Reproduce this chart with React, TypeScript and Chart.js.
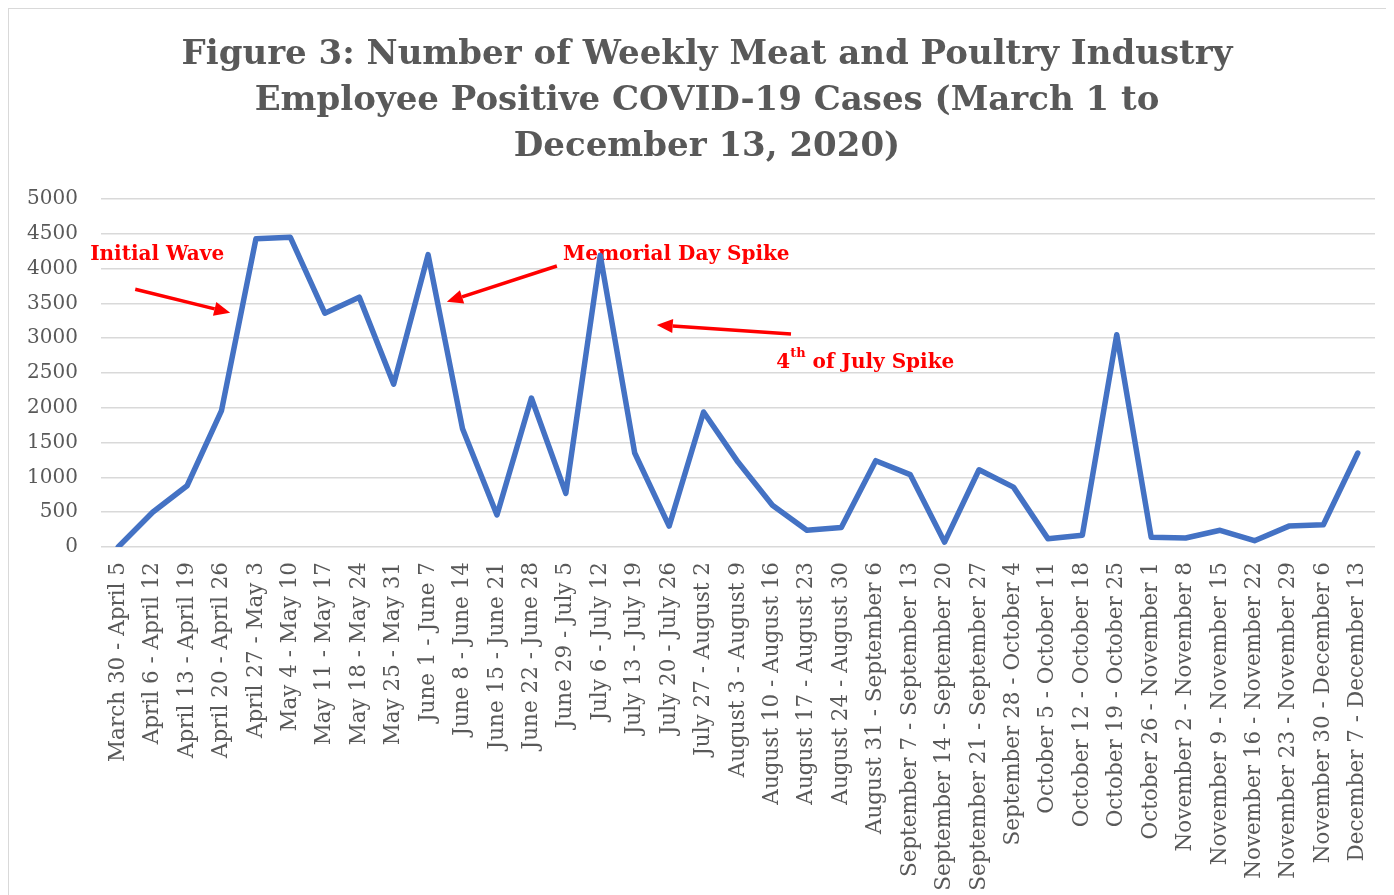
import React, { useEffect, useRef } from "react";
import { Chart, registerables } from "chart.js";

Chart.register(...registerables);

const weekLabels: string[] = [
  "March 30 - April 5",
  "April 6 - April 12",
  "April 13 - April 19",
  "April 20 - April 26",
  "April 27 - May 3",
  "May 4 - May 10",
  "May 11 - May 17",
  "May 18 - May 24",
  "May 25 - May 31",
  "June 1 - June 7",
  "June 8 - June 14",
  "June 15 - June 21",
  "June 22 - June 28",
  "June 29 - July 5",
  "July 6 - July 12",
  "July 13 - July 19",
  "July 20 - July 26",
  "July 27 - August 2",
  "August 3 - August 9",
  "August 10 - August 16",
  "August 17 - August 23",
  "August 24 - August 30",
  "August 31 - September 6",
  "September 7 - September 13",
  "September 14 - September 20",
  "September 21 - September 27",
  "September 28 - October 4",
  "October 5 - October 11",
  "October 12 - October 18",
  "October 19 - October 25",
  "October 26 - November 1",
  "November 2 - November 8",
  "November 9 - November 15",
  "November 16 - November 22",
  "November 23 - November 29",
  "November 30 - December 6",
  "December 7 - December 13",
];

const weeklyCases: number[] = [
  0, 500, 880, 1960, 4430, 4450, 3360, 3590, 2340, 4200,
  1700, 460, 2140, 770, 4190, 1350, 300, 1940, 1220, 600,
  240, 280, 1240, 1040, 70, 1110, 860, 120, 170, 3050,
  140, 130, 240, 90, 300, 320, 1350,
];

const yTickValues: number[] = [0, 500, 1000, 1500, 2000, 2500, 3000, 3500, 4000, 4500, 5000];

const titleLines: string[] = [
  "Figure 3: Number of Weekly Meat and Poultry Industry",
  "Employee Positive COVID-19 Cases (March 1 to",
  "December 13, 2020)",
];

// annotation texts (positions in data coordinates: category index, value)
const noteTexts: string[] = ["Initial Wave", "Memorial Day Spike"];
const noteAnchors: [number, number][] = [
  [-0.813, 4196],
  [12.92, 4196],
];
const julyNote = { main: "4", sup: "th", rest: " of July Spike" };
const julyAnchor: [number, number] = [19.11, 2644];

const arrowFrom: [number, number][] = [
  [0.494, 3703],
  [12.74, 4037],
  [19.54, 3060],
];
const arrowTo: [number, number][] = [
  [3.252, 3366],
  [9.544, 3524],
  [15.64, 3190],
];

const SERIF = '"DejaVu Serif", serif';
const GREY = "#595959";
const RED = "#ff0000";

const CANVAS_W = 1385;
const CANVAS_H = 886;

const titlePlugin = {
  id: "figTitle",
  afterDraw(chart: any) {
    const ctx = chart.ctx;
    ctx.save();
    ctx.font = `bold 34px ${SERIF}`;
    ctx.fillStyle = GREY;
    ctx.textAlign = "center";
    ctx.textBaseline = "middle";
    titleLines.forEach((t, i) => ctx.fillText(t, 698, 46 + i * 46));
    ctx.restore();
  },
};

const notesPlugin = {
  id: "notes",
  beforeDatasetsDraw(chart: any) {
    const ctx = chart.ctx;
    const xs = chart.scales.x;
    const ys = chart.scales.y;
    ctx.save();
    ctx.fillStyle = RED;
    ctx.textBaseline = "middle";
    ctx.textAlign = "left";
    ctx.font = `bold 20px ${SERIF}`;
    noteTexts.forEach((t, i) => {
      const [xi, v] = noteAnchors[i];
      ctx.fillText(t, xs.getPixelForValue(xi), ys.getPixelForValue(v));
    });
    const jx = xs.getPixelForValue(julyAnchor[0]);
    const jy = ys.getPixelForValue(julyAnchor[1]);
    ctx.fillText(julyNote.main, jx, jy);
    const w1 = ctx.measureText(julyNote.main).width;
    ctx.font = `bold 13px ${SERIF}`;
    ctx.fillText(julyNote.sup, jx + w1, jy - 9);
    const w2 = ctx.measureText(julyNote.sup).width;
    ctx.font = `bold 20px ${SERIF}`;
    ctx.fillText(julyNote.rest, jx + w1 + w2, jy);

    // arrows
    ctx.strokeStyle = RED;
    ctx.lineWidth = 3.5;
    arrowFrom.forEach((f, i) => {
      const t = arrowTo[i];
      const x1 = xs.getPixelForValue(f[0]);
      const y1 = ys.getPixelForValue(f[1]);
      const x2 = xs.getPixelForValue(t[0]);
      const y2 = ys.getPixelForValue(t[1]);
      const ang = Math.atan2(y2 - y1, x2 - x1);
      const headLen = 16;
      const headW = 7;
      const bx = x2 - headLen * Math.cos(ang);
      const by = y2 - headLen * Math.sin(ang);
      ctx.beginPath();
      ctx.moveTo(x1, y1);
      ctx.lineTo(bx, by);
      ctx.stroke();
      ctx.beginPath();
      ctx.moveTo(x2, y2);
      ctx.lineTo(bx + headW * Math.sin(ang), by - headW * Math.cos(ang));
      ctx.lineTo(bx - headW * Math.sin(ang), by + headW * Math.cos(ang));
      ctx.closePath();
      ctx.fill();
    });
    ctx.restore();
  },
};

export default function App() {
  const canvasRef = useRef<HTMLCanvasElement | null>(null);

  useEffect(() => {
    document.documentElement.style.overflow = "hidden";
    document.body.style.overflow = "hidden";
    const canvas = canvasRef.current;
    if (!canvas) return;
    const chart = new Chart(canvas, {
      type: "line",
      data: {
        labels: weekLabels,
        datasets: [
          {
            data: weeklyCases,
            borderColor: "#4472C4",
            backgroundColor: "#4472C4",
            borderWidth: 5.5,
            pointRadius: 0,
            tension: 0,
            borderJoinStyle: "round",
            borderCapStyle: "round",
          },
        ],
      },
      options: {
        responsive: false,
        animation: false,
        layout: { padding: { top: 190, left: 0, right: 19, bottom: 0 } },
        plugins: {
          legend: { display: false },
          tooltip: { enabled: false },
          title: { display: false },
        },
        scales: {
          x: {
            type: "category",
            offset: true,
            grid: { display: false, drawTicks: false },
            border: { display: false },
            ticks: {
              autoSkip: false,
              minRotation: 90,
              maxRotation: 90,
              padding: 15,
              color: GREY,
              font: { family: SERIF, size: 21.5 },
            },
            afterFit(scale: any) {
              scale.height = 348;
              scale.paddingLeft = 0;
              scale.paddingRight = 0;
            },
          },
          y: {
            min: 0,
            max: 5000,
            afterBuildTicks(scale: any) {
              scale.ticks = yTickValues.map((v) => ({ value: v }));
            },
            grid: { color: "#d9d9d9", lineWidth: 1.5, drawTicks: false },
            border: { display: false },
            ticks: {
              padding: 23,
              color: GREY,
              font: { family: SERIF, size: 20 },
              callback: (v: any) => String(v),
            },
            afterFit(scale: any) {
              scale.width = 92;
            },
          },
        },
      },
      plugins: [titlePlugin, notesPlugin],
    } as any);
    return () => chart.destroy();
  }, []);

  return (
    <div
      style={{
        width: 1386,
        height: 887,
        borderTop: "1px solid #d9d9d9",
        borderLeft: "1px solid #d9d9d9",
        boxSizing: "border-box",
        overflow: "hidden",
        background: "#ffffff",
      }}
    >
      <canvas ref={canvasRef} width={CANVAS_W} height={CANVAS_H} style={{ display: "block" }} />
    </div>
  );
}
